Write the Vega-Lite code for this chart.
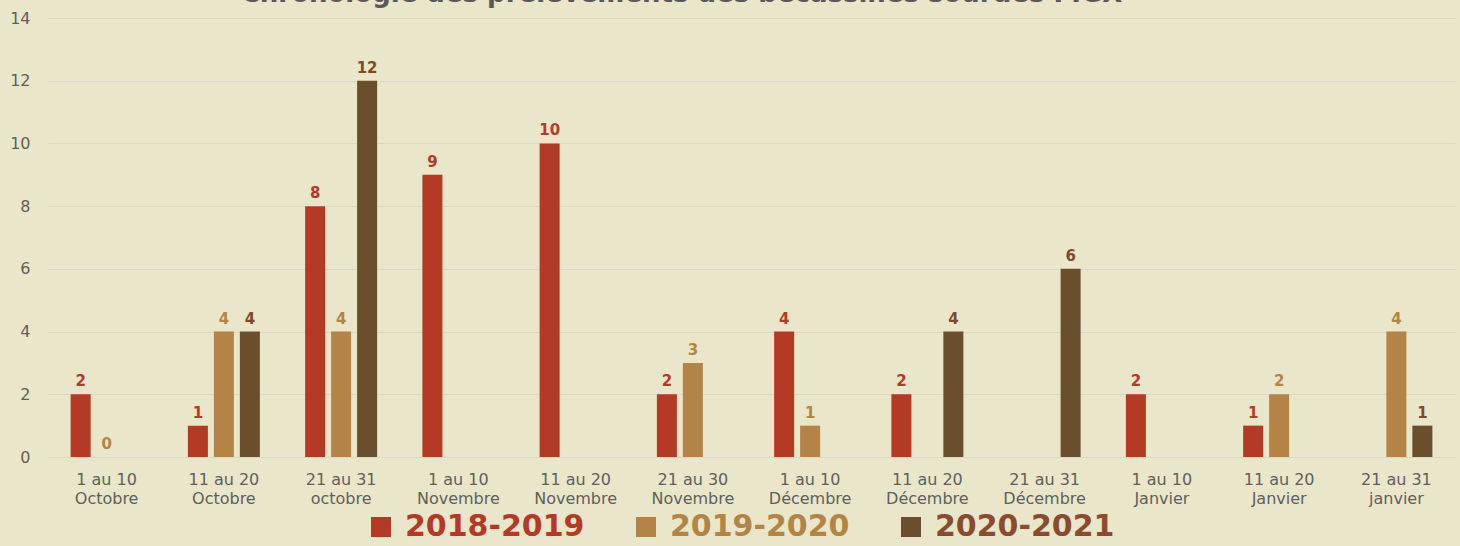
{
  "$schema": "https://vega.github.io/schema/vega-lite/v6.json",
  "width": 1407,
  "height": 439,
  "autosize": {"type": "none"},
  "padding": {"left": 48, "top": 18, "right": 5, "bottom": 89},
  "background": "#E9E6C9",
  "config": {"view": {"stroke": null}, "font": "DejaVu Sans"},
  "title": {
    "text": "Chronologie des prélèvements des bécassines sourdes FIGX",
    "fontSize": 26,
    "fontWeight": "bold",
    "color": "#595959",
    "anchor": "middle",
    "dx": -70,
    "offset": 3
  },
  "data": {
    "values": [
      {"period": "1 au 10|Octobre", "season": "2018-2019", "value": 2},
      {"period": "1 au 10|Octobre", "season": "2019-2020", "value": 0},
      {"period": "11 au 20|Octobre", "season": "2018-2019", "value": 1},
      {"period": "11 au 20|Octobre", "season": "2019-2020", "value": 4},
      {"period": "11 au 20|Octobre", "season": "2020-2021", "value": 4},
      {"period": "21 au 31|octobre", "season": "2018-2019", "value": 8},
      {"period": "21 au 31|octobre", "season": "2019-2020", "value": 4},
      {"period": "21 au 31|octobre", "season": "2020-2021", "value": 12},
      {"period": "1 au 10|Novembre", "season": "2018-2019", "value": 9},
      {"period": "11 au 20|Novembre", "season": "2018-2019", "value": 10},
      {"period": "21 au 30|Novembre", "season": "2018-2019", "value": 2},
      {"period": "21 au 30|Novembre", "season": "2019-2020", "value": 3},
      {"period": "1 au 10|Décembre", "season": "2018-2019", "value": 4},
      {"period": "1 au 10|Décembre", "season": "2019-2020", "value": 1},
      {"period": "11 au 20|Décembre", "season": "2018-2019", "value": 2},
      {"period": "11 au 20|Décembre", "season": "2020-2021", "value": 4},
      {"period": "21 au 31|Décembre", "season": "2020-2021", "value": 6},
      {"period": "1 au 10|Janvier", "season": "2018-2019", "value": 2},
      {"period": "11 au 20|Janvier", "season": "2018-2019", "value": 1},
      {"period": "11 au 20|Janvier", "season": "2019-2020", "value": 2},
      {"period": "21 au 31|janvier", "season": "2019-2020", "value": 4},
      {"period": "21 au 31|janvier", "season": "2020-2021", "value": 1}
    ]
  },
  "encoding": {
    "x": {
      "field": "period",
      "type": "nominal",
      "sort": ["1 au 10|Octobre", "11 au 20|Octobre", "21 au 31|octobre", "1 au 10|Novembre", "11 au 20|Novembre", "21 au 30|Novembre", "1 au 10|Décembre", "11 au 20|Décembre", "21 au 31|Décembre", "1 au 10|Janvier", "11 au 20|Janvier", "21 au 31|janvier"],
      "scale": {"paddingInner": 0.386, "paddingOuter": 0.193},
      "axis": {
        "title": null,
        "labelExpr": "split(datum.value, '|')",
        "labelAngle": 0,
        "domain": false,
        "ticks": false,
        "labelPadding": 14,
        "labelFontSize": 16,
        "labelLineHeight": 19,
        "labelColor": "#5F5F5F"
      }
    },
    "xOffset": {
      "field": "season",
      "type": "nominal",
      "scale": {"domain": ["2018-2019", "2019-2020", "2020-2021"], "paddingInner": 0.23, "paddingOuter": 0}
    },
    "y": {
      "field": "value",
      "type": "quantitative",
      "scale": {"domain": [0, 14]},
      "axis": {
        "title": null,
        "values": [0, 2, 4, 6, 8, 10, 12, 14],
        "grid": true,
        "gridColor": "#D9D8CC",
        "domain": false,
        "ticks": false,
        "labelPadding": 18,
        "labelFontSize": 16,
        "labelColor": "#5F5F5F"
      }
    }
  },
  "layer": [
    {
      "mark": {"type": "bar"},
      "encoding": {
        "color": {
          "field": "season",
          "type": "nominal",
          "scale": {"domain": ["2018-2019", "2019-2020", "2020-2021"], "range": ["#B53A26", "#B38446", "#6B4E2C"]},
          "legend": {
            "title": null,
            "orient": "none",
            "legendX": 318,
            "legendY": 494,
            "direction": "horizontal",
            "symbolType": "square",
            "symbolSize": 400,
            "symbolStrokeWidth": 0,
            "labelFontSize": 30,
            "labelFontWeight": "bold",
            "labelOffset": 9,
            "columnPadding": 46,
            "labelLimit": 400,
            "encode": {
              "labels": {
                "update": {
                  "fill": {"signal": "datum.value == '2018-2019' ? '#B53A26' : datum.value == '2019-2020' ? '#B38446' : '#8B4C2E'"}
                }
              }
            }
          }
        }
      }
    },
    {
      "mark": {"type": "text", "fontSize": 15, "fontWeight": "bold", "baseline": "alphabetic", "dy": -8},
      "encoding": {
        "text": {"field": "value", "type": "quantitative"},
        "fill": {
          "field": "season",
          "type": "nominal",
          "scale": {"domain": ["2018-2019", "2019-2020", "2020-2021"], "range": ["#B5392A", "#B38446", "#7D4A2B"]},
          "legend": null
        }
      }
    }
  ]
}
